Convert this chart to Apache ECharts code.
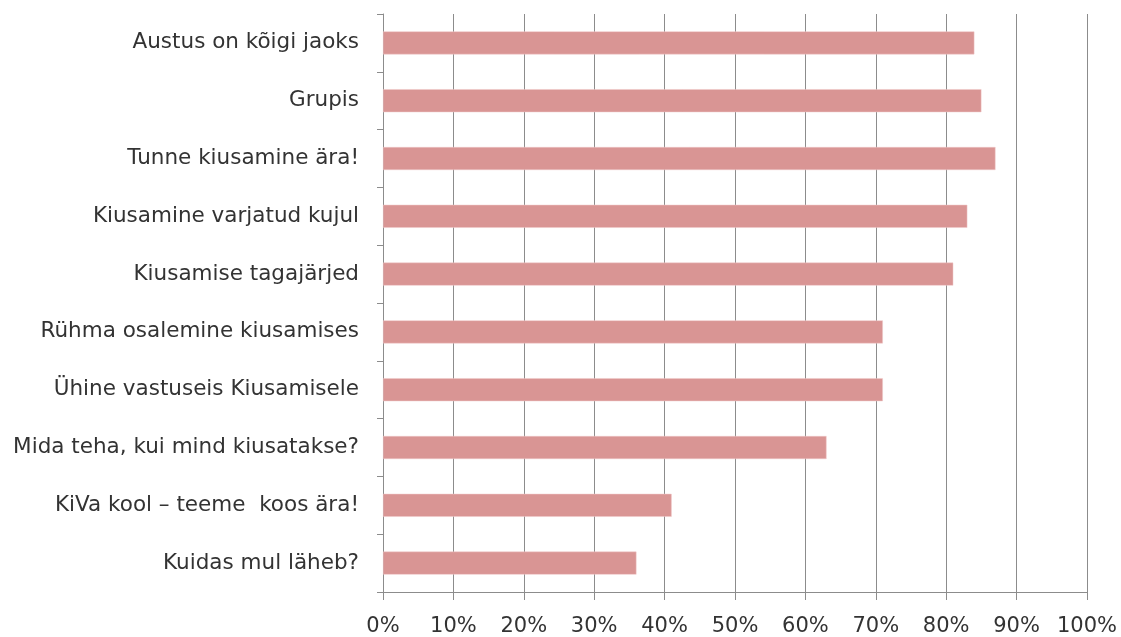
<!DOCTYPE html>
<html>
<head>
<meta charset="utf-8">
<script src="https://cdn.jsdelivr.net/npm/echarts@6/dist/echarts.min.js"></script>
<style>
  html, body { margin: 0; padding: 0; background: #fff; }
  #chart { width: 1121px; height: 637px; }
</style>
</head>
<body>
<div id="chart"></div>
<script>
// categories listed bottom -> top (ECharts draws category axis from bottom)
const topics = [
  'Kuidas mul läheb?',
  'KiVa kool – teeme  koos ära!',
  'Mida teha, kui mind kiusatakse?',
  'Ühine vastuseis Kiusamisele',
  'Rühma osalemine kiusamises',
  'Kiusamise tagajärjed',
  'Kiusamine varjatud kujul',
  'Tunne kiusamine ära!',
  'Grupis',
  'Austus on kõigi jaoks'
];
const shares = [36, 41, 63, 71, 71, 81, 83, 87, 85, 84];

const chart = echarts.init(document.getElementById('chart'));
const axisGray = '#8c8c8c';
const textColor = '#333333';
const font = 'DejaVu Sans';

chart.setOption({
  animation: false,
  grid: { left: 383, right: 34, top: 14, bottom: 45, containLabel: false },
  xAxis: {
    type: 'value',
    min: 0,
    max: 100,
    interval: 10,
    axisLine: { show: true, lineStyle: { color: axisGray, width: 1 } },
    axisTick: { show: true, length: 8, lineStyle: { color: axisGray } },
    splitLine: { show: true, lineStyle: { color: axisGray, width: 1 } },
    axisLabel: {
      margin: 24,
      color: textColor,
      fontFamily: font,
      fontSize: 21,
      formatter: v => v + '%'
    }
  },
  yAxis: {
    type: 'category',
    data: topics,
    axisLine: { show: true, lineStyle: { color: axisGray, width: 1 } },
    axisTick: { show: true, length: 6, lineStyle: { color: axisGray } },
    axisLabel: {
      margin: 24,
      color: textColor,
      fontFamily: font,
      fontSize: 21.5
    }
  },
  series: [{
    type: 'bar',
    data: shares,
    barWidth: 23,
    itemStyle: { color: '#d99594', borderColor: '#f0c8c8', borderWidth: 0.5 }
  }]
});
</script>
</body>
</html>
